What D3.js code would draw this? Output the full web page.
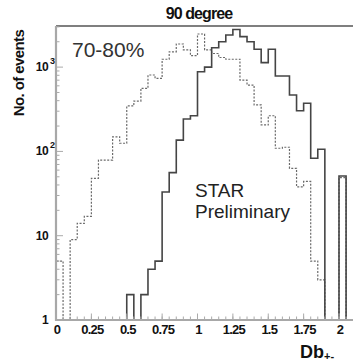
<!DOCTYPE html>
<html>
<head>
<meta charset="utf-8">
<script src="https://cdn.jsdelivr.net/npm/d3@7"></script>
<style>
  html, body { margin: 0; padding: 0; background: #fff; }
  svg { display: block; }
  text { font-family: "Liberation Sans", Arial, sans-serif; }
</style>
</head>
<body>
<svg id="chart" width="353" height="363"></svg>
<script>
// ---- data ----
const title = "90 degree";
const centralityLabel = "70-80%";
const starLabel = ["STAR", "Preliminary"];
const yTitle = "No. of events";
const xTitleMain = "Db";
const xTitleSub = "+-";

// lower edges of the histogram bins (bin width 0.05)
const binLow = [0, 0.05, 0.1, 0.15, 0.2, 0.25, 0.3, 0.35, 0.4, 0.45,
                0.5, 0.55, 0.6, 0.65, 0.7, 0.75, 0.8, 0.85, 0.9, 0.95,
                1.0, 1.05, 1.1, 1.15, 1.2, 1.25, 1.3, 1.35, 1.4, 1.45,
                1.5, 1.55, 1.6, 1.65, 1.7, 1.75, 1.8, 1.85, 1.9, 1.95,
                2.0, 2.05];
const binWidth = 0.05;

// dotted histogram
const dottedCounts = [5, 0, 9, 14, 17, 48, 79, 79, 149, 125,
                      346, 396, 561, 806, 736, 1240, 1520, 1880, 1600, 1370,
                      2470, 1600, 1450, 1300, 1240, 1240, 700, 613, 356, 206,
                      265, 109, 112, 63, 38, 44, 5, 3, 0, 0,
                      49, 0];
// solid histogram
const solidCounts = [0, 0, 0, 0, 0, 0, 0, 0, 0, 0,
                     2, 0, 2, 4, 5, 33, 56, 136, 242, 265,
                     881, 1000, 1700, 2000, 2400, 2800, 2300, 2000, 1630, 1130,
                     1630, 784, 784, 467, 304, 372, 83, 106, 0, 0,
                     51, 0];

const xTickValues = [0, 0.25, 0.5, 0.75, 1, 1.25, 1.5, 1.75, 2];
const xTickLabels = ["0", "0.25", "0.5", "0.75", "1", "1.25", "1.5", "1.75", "2"];
const yMajorTicks = [1, 10, 100, 1000];
const yTickBase = ["1", "10", "10", "10"];
const yTickExp = ["", "", "2", "3"];

// ---- layout ----
const svg = d3.select("#chart");
const L = 56, T = 26, B = 320, R = 353;
const x = d3.scaleLinear().domain([0, 2]).range([L, 339]);
const y = d3.scaleLog().domain([1, 3075]).range([B, T]);

svg.append("defs").append("clipPath").attr("id", "plotclip")
  .append("rect").attr("x", L).attr("y", T).attr("width", R - L).attr("height", B - T);

// histogram path builder
function histPoints(counts) {
  const pts = [[x(binLow[0]), y(1)]];
  counts.forEach((c, i) => {
    const v = c > 1 ? c : 1;
    pts.push([x(binLow[i]), y(v)]);
    pts.push([x(binLow[i] + binWidth), y(v)]);
  });
  pts.push([x(binLow[binLow.length - 1] + binWidth), y(1)]);
  return pts;
}
const line = d3.line();

const plot = svg.append("g").attr("clip-path", "url(#plotclip)");
plot.append("path")
  .attr("d", line(histPoints(dottedCounts)))
  .attr("fill", "none").attr("stroke", "#6a6a6a").attr("stroke-width", 1.2)
  .attr("stroke-dasharray", "2,1.5");
plot.append("path")
  .attr("d", line(histPoints(solidCounts)))
  .attr("fill", "none").attr("stroke", "#454545").attr("stroke-width", 1.6);

// ---- axes / frame ----
svg.append("line").attr("x1", L).attr("x2", R).attr("y1", T).attr("y2", T)
  .attr("stroke", "#555").attr("stroke-width", 1.6);
svg.append("line").attr("x1", L).attr("x2", L).attr("y1", T).attr("y2", B + 1)
  .attr("stroke", "#a8a8a8").attr("stroke-width", 2.2);
svg.append("line").attr("x1", L).attr("x2", R).attr("y1", B).attr("y2", B)
  .attr("stroke", "#a8a8a8").attr("stroke-width", 2);

// y ticks (log)
const yMinor = [];
for (let d = 1; d <= 1000; d *= 10) {
  for (let m = 2; m <= 9; m++) { if (d * m <= 3075) yMinor.push(d * m); }
}
svg.append("g").selectAll("line.ymin").data(yMinor).join("line")
  .attr("x1", L).attr("x2", L + 3.5).attr("y1", d => y(d)).attr("y2", d => y(d))
  .attr("stroke", "#aaa").attr("stroke-width", 1);
svg.append("g").selectAll("line.ymaj").data(yMajorTicks).join("line")
  .attr("x1", L).attr("x2", L + 7).attr("y1", d => y(d)).attr("y2", d => y(d))
  .attr("stroke", "#aaa").attr("stroke-width", 1);

// y labels
svg.append("g").selectAll("text.yl").data(yMajorTicks).join("text")
  .attr("x", 48).attr("y", d => y(d) + 4)
  .attr("text-anchor", "end")
  .attr("font-size", 12).attr("font-weight", "bold").attr("fill", "#111")
  .attr("letter-spacing", -0.6)
  .text((d, i) => yTickBase[i]);
svg.append("g").selectAll("text.ye").data(yMajorTicks.filter((d, i) => yTickExp[i] !== "")).join("text")
  .attr("x", 50).attr("y", d => y(d) - 3)
  .attr("font-size", 9).attr("font-weight", "bold").attr("fill", "#111")
  .text(d => yTickExp[yMajorTicks.indexOf(d)]);

// x ticks
const xMinor = binLow.filter(v => v <= 2.05);
svg.append("g").selectAll("line.xmin").data(xMinor).join("line")
  .attr("x1", d => x(d)).attr("x2", d => x(d)).attr("y1", B).attr("y2", B - 3.5)
  .attr("stroke", "#aaa").attr("stroke-width", 1);
svg.append("g").selectAll("line.xmaj").data(xTickValues).join("line")
  .attr("x1", d => x(d)).attr("x2", d => x(d)).attr("y1", B).attr("y2", B - 6.5)
  .attr("stroke", "#aaa").attr("stroke-width", 1);
svg.append("g").selectAll("text.xl").data(xTickValues).join("text")
  .attr("x", d => x(d) + 1).attr("y", 334)
  .attr("text-anchor", "middle")
  .attr("font-size", 13).attr("font-weight", "bold").attr("fill", "#111")
  .attr("letter-spacing", -0.8)
  .text((d, i) => xTickLabels[i]);

// titles
svg.append("text").attr("x", 199).attr("y", 19).attr("text-anchor", "middle")
  .attr("font-size", 16).attr("font-weight", "bold").attr("letter-spacing", -0.9)
  .attr("fill", "#111").text(title);

svg.append("text").attr("transform", "translate(24,73) rotate(-90)")
  .attr("text-anchor", "middle")
  .attr("font-size", 15).attr("font-weight", "bold").attr("letter-spacing", -0.6)
  .attr("fill", "#111").text(yTitle);

const xt = svg.append("text").attr("x", 300).attr("y", 358)
  .attr("font-size", 18).attr("font-weight", "bold").attr("fill", "#111");
xt.append("tspan").text(xTitleMain);
xt.append("tspan").attr("font-size", 11).attr("dy", 2).text(xTitleSub);

svg.append("text").attr("x", 72).attr("y", 57)
  .attr("font-size", 21).attr("fill", "#333").text(centralityLabel);

svg.append("text").attr("x", 195).attr("y", 197)
  .attr("font-size", 19).attr("fill", "#222").text(starLabel[0]);
svg.append("text").attr("x", 195).attr("y", 218)
  .attr("font-size", 19).attr("fill", "#222").text(starLabel[1]);
</script>
</body>
</html>
